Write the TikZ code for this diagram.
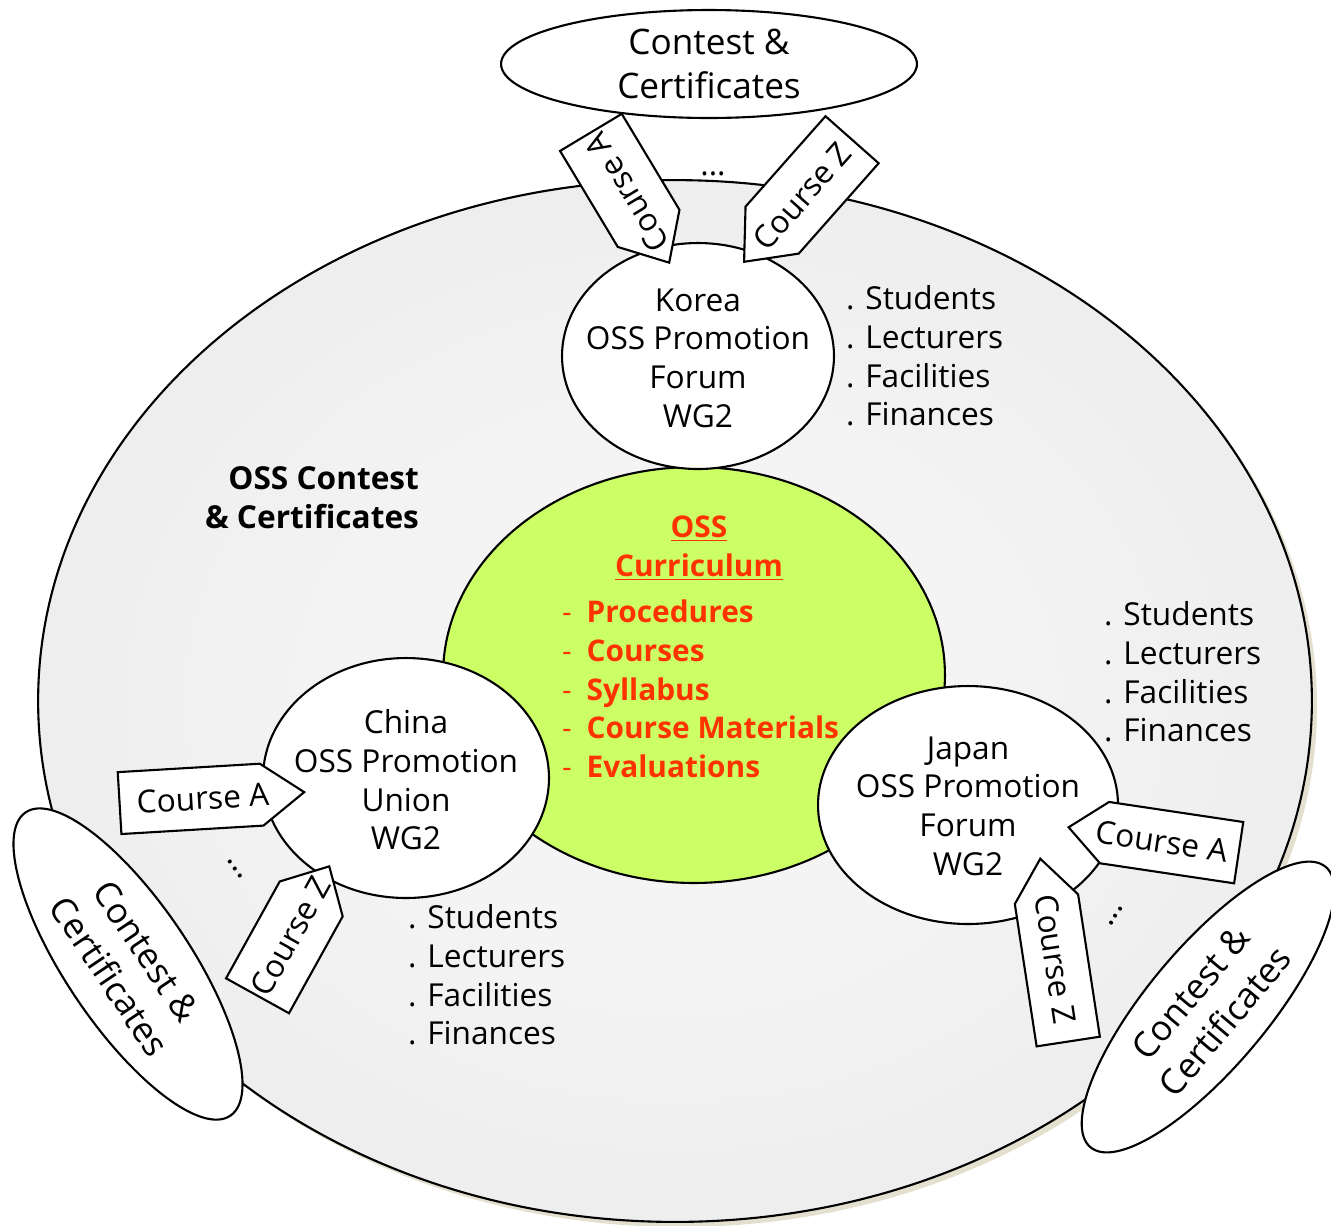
\documentclass[tikz,border=0pt]{standalone}
\usepackage{fontspec}
\setmainfont{Open Sans}
\usetikzlibrary{shapes.geometric,shapes.symbols,calc}
\definecolor{ossred}{HTML}{FF3300}
\definecolor{limegreen}{HTML}{CCFF66}
\definecolor{shadowc}{HTML}{E4E0D0}
\definecolor{gin}{HTML}{F4F4F4}
\definecolor{gout}{HTML}{E2E2E2}
\pgfdeclareradialshading{bigshade}{\pgfpoint{0bp}{0bp}}{color(0bp)=(gin); color(12bp)=(gin); color(50bp)=(gout)}
\begin{document}
\begin{tikzpicture}[x=0.02cm,y=-0.02cm, line width=1.2pt,
  every node/.style={font=\fontsize{18}{22}\selectfont},
  blob/.style={draw, ellipse, fill=white, inner sep=0pt},
  ccbox/.style={blob, font=\fontsize{20}{25.5}\selectfont, align=center},
  tagbox/.style={draw, fill=white, signal, inner sep=0pt},
  tagtext/.style={inner sep=0pt, font=\fontsize{18}{22}\selectfont},
  txt/.style={align=center, inner sep=0pt},
  lst/.style={align=left, inner sep=0pt},
  redbold/.style={text=ossred, font=\bfseries\fontsize{17}{22}\selectfont},
  dotsn/.style={inner sep=0pt, font=\fontsize{18}{22}\selectfont}]
\useasboundingbox (0,0) rectangle (1331,1225);
% shadow and big ellipse
\fill[shadowc] (680,706) ellipse [x radius=637, y radius=521];
\node[ellipse, draw, minimum width=25.48cm, minimum height=20.84cm, shading=bigshade, inner sep=0pt] (big) at (675,701) {};
% curriculum
\node[ellipse, draw, fill=limegreen, minimum width=10.04cm, minimum height=8.32cm, inner sep=0pt] (cur) at (694,675) {};
% member circles
\node[blob, minimum width=5.44cm, minimum height=4.52cm] (korea) at (698,356) {};
\node[blob, minimum width=5.72cm, minimum height=4.8cm] (china) at (406,778) {};
\node[blob, minimum width=6.0cm, minimum height=4.76cm] (japan) at (968,805) {};
% contest ellipses
\node[ccbox, minimum width=8.32cm, minimum height=2.16cm] (ccTop) at (709,64) {Contest \&\\Certificates};
\node[ccbox, minimum width=7.32cm, minimum height=2.48cm, rotate=-56] (ccLeft) at (128,964) {Contest \&\\Certificates};
\node[ccbox, minimum width=7.32cm, minimum height=2.4cm, rotate=50] (ccRight) at (1208,1007) {Contest \&\\Certificates};
% course tags (pointer tip placed on the member circle)
\node[tagbox, signal to=west, signal pointer angle=84, rotate=121, minimum width=3.04cm, minimum height=1.44cm, anchor=west] (kA) at (670,264) {};
\node[tagtext, rotate=121] (kAt) at ($(kA.east)!0.46!(kA.west)$) {Course A};
\node[tagbox, signal to=west, signal pointer angle=80, rotate=48.5, minimum width=3.26cm, minimum height=1.42cm, anchor=west] (kZ) at (743,263) {};
\node[tagtext, rotate=48.5] (kZt) at ($(kZ.east)!0.46!(kZ.west)$) {Course Z};
\node[tagbox, signal to=east, signal pointer angle=72, rotate=3.4, minimum width=3.7cm, minimum height=1.24cm, anchor=east] (cA) at (306,792) {};
\node[tagtext, rotate=3.4] (cAt) at ($(cA.west)!0.45!(cA.east)$) {Course A};
\node[tagbox, signal to=east, signal pointer angle=88, rotate=61, minimum width=2.96cm, minimum height=1.44cm, anchor=east] (cZ) at (330,865) {};
\node[tagtext, rotate=61] (cZt) at ($(cZ.west)!0.46!(cZ.east)$) {Course Z};
\node[tagbox, signal to=west, signal pointer angle=81, rotate=-8.5, minimum width=3.44cm, minimum height=1.24cm, anchor=west] (jA) at (1067,827) {};
\node[tagtext, rotate=-8.5] (jAt) at ($(jA.east)!0.45!(jA.west)$) {Course A};
\node[tagbox, signal to=west, signal pointer angle=76, rotate=-81.3, minimum width=3.7cm, minimum height=1.28cm, anchor=west] (jZ) at (1040,857) {};
\node[tagtext, rotate=-81.3] (jZt) at ($(jZ.east)!0.45!(jZ.west)$) {Course Z};
% dots
\node[dotsn] (dTop) at (713,174) {...};
\node[dotsn, rotate=-55] (dLeft) at (235,869) {...};
\node[dotsn, rotate=55] (dRight) at (1116,916) {...};
% circle texts
\node[txt] (koreaT) at (698,358) {Korea\\OSS Promotion\\Forum\\WG2};
\node[txt] (chinaT) at (406,780) {China\\OSS Promotion\\Union\\WG2};
\node[txt] (japanT) at (968,806) {Japan\\OSS Promotion\\Forum\\WG2};
% resource lists
\node[lst, anchor=west] (kList) at (845,356) {. Students\\. Lecturers\\. Facilities\\. Finances};
\node[lst, anchor=west] (jList) at (1103,672) {. Students\\. Lecturers\\. Facilities\\. Finances};
\node[lst, anchor=west] (cList) at (407,975) {. Students\\. Lecturers\\. Facilities\\. Finances};
% labels
\node[inner sep=0pt, align=right, anchor=east, font=\bfseries\fontsize{18}{22}\selectfont] (ossCC) at (420,498) {OSS Contest\\\& Certificates};
\node[txt, redbold] (curT) at (699,548) {\underline{OSS}\\\underline{Curriculum}};
\node[lst, redbold, anchor=west] (curL) at (561,689) {{\mdseries -}\enspace Procedures\\{\mdseries -}\enspace Courses\\{\mdseries -}\enspace Syllabus\\{\mdseries -}\enspace Course Materials\\{\mdseries -}\enspace Evaluations};
\end{tikzpicture}
\end{document}
